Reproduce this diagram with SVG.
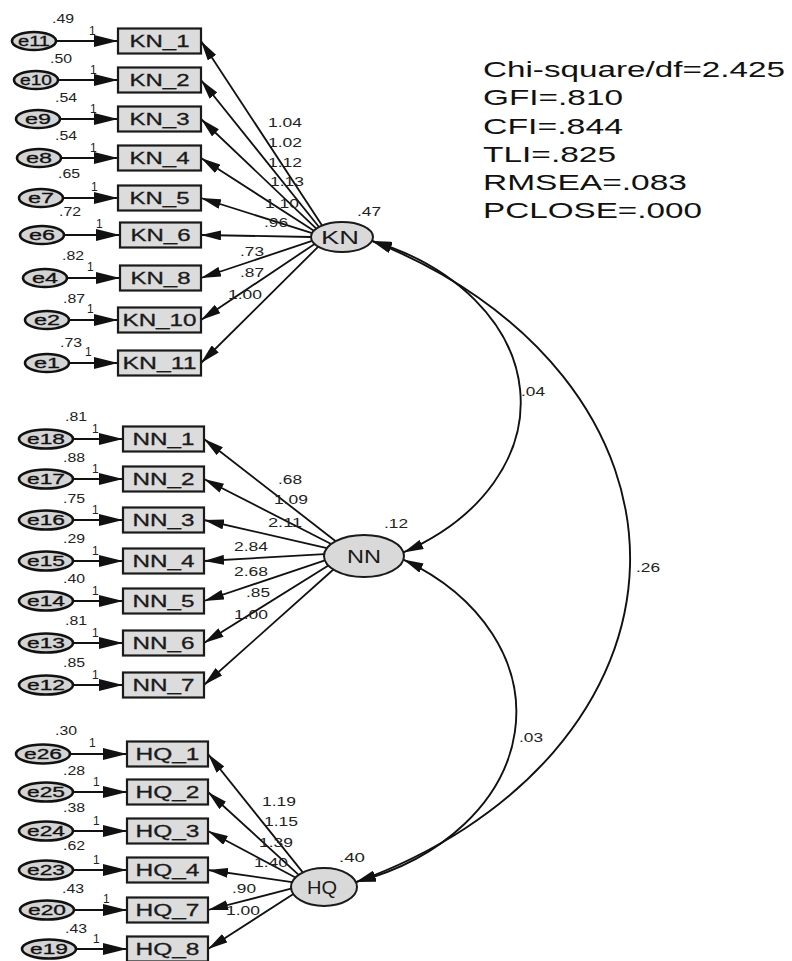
<svg xmlns="http://www.w3.org/2000/svg" width="792" height="961" viewBox="0 0 792 961">
<style>
.bg{fill:#ffffff}
.box{fill:#dcdcdc;stroke:#1a1a1a;stroke-width:2.2}
.lat{fill:#d9d9d9;stroke:#1a1a1a;stroke-width:2}
.err{fill:#d4d4d4;stroke:#111;stroke-width:2.6}
.ln{stroke:#111;stroke-width:1.8;fill:none;marker-end:url(#ah)}
.el-ln{stroke:#111;stroke-width:1.8;fill:none;marker-end:url(#ahb)}
.cov{stroke:#111;stroke-width:1.9;fill:none;marker-start:url(#ah);marker-end:url(#ah)}
.bl{font-family:"Liberation Sans",Arial,sans-serif;font-size:17px;fill:#1a1a1a;text-anchor:middle;stroke:#1a1a1a;stroke-width:0.3}
.ll{font-family:"Liberation Sans",Arial,sans-serif;font-size:18px;fill:#1a1a1a;text-anchor:middle}
.el{font-family:"Liberation Sans",Arial,sans-serif;font-size:14px;fill:#111;text-anchor:middle;stroke:#111;stroke-width:0.3}
.n{font-family:"Liberation Sans",Arial,sans-serif;font-size:12px;fill:#222}
.fit{font-family:"Liberation Sans",Arial,sans-serif;font-size:22px;fill:#111}
</style>
<defs>
<marker id="ah" viewBox="0 0 20 10" refX="20" refY="5" markerWidth="20" markerHeight="10" markerUnits="userSpaceOnUse" orient="auto-start-reverse"><path d="M0,0 L20,5 L0,10 Z" fill="#111"/></marker>
<marker id="ahb" viewBox="0 0 24 12" refX="24" refY="6" markerWidth="24" markerHeight="12" markerUnits="userSpaceOnUse" orient="auto"><path d="M0,0 L24,6 L0,12 Z" fill="#111"/></marker>
</defs>
<rect class="bg" x="0" y="0" width="792" height="961"/>

<g id="connectors">
<!-- error arrows KN -->
<line class="el-ln" x1="56" y1="41" x2="118" y2="41"/>
<line class="el-ln" x1="58" y1="80" x2="118" y2="80"/>
<line class="el-ln" x1="60" y1="119" x2="118" y2="119"/>
<line class="el-ln" x1="61" y1="158" x2="118" y2="158"/>
<line class="el-ln" x1="63" y1="198" x2="118" y2="198"/>
<line class="el-ln" x1="64" y1="235" x2="120" y2="235"/>
<line class="el-ln" x1="67" y1="278" x2="120" y2="278"/>
<line class="el-ln" x1="69" y1="320" x2="118" y2="320"/>
<line class="el-ln" x1="69" y1="363" x2="118" y2="363"/>
<!-- error arrows NN -->
<line class="el-ln" x1="73" y1="439" x2="123" y2="439"/>
<line class="el-ln" x1="73" y1="479" x2="123" y2="479"/>
<line class="el-ln" x1="73" y1="520" x2="123" y2="520"/>
<line class="el-ln" x1="73" y1="561" x2="123" y2="561"/>
<line class="el-ln" x1="73" y1="601" x2="123" y2="601"/>
<line class="el-ln" x1="73" y1="643" x2="123" y2="643"/>
<line class="el-ln" x1="73" y1="685" x2="123" y2="685"/>
<!-- error arrows HQ -->
<line class="el-ln" x1="70" y1="754" x2="127" y2="754"/>
<line class="el-ln" x1="73" y1="792" x2="127" y2="792"/>
<line class="el-ln" x1="73" y1="831" x2="127" y2="831"/>
<line class="el-ln" x1="73" y1="870" x2="127" y2="870"/>
<line class="el-ln" x1="74" y1="910" x2="127" y2="910"/>
<line class="el-ln" x1="76" y1="949" x2="127" y2="949"/>
<!-- loadings KN -->
<line class="ln" x1="322.1" y1="225.5" x2="201" y2="41"/>
<line class="ln" x1="319" y1="227" x2="201" y2="80"/>
<line class="ln" x1="316.3" y1="228.6" x2="201" y2="119"/>
<line class="ln" x1="313.9" y1="230.7" x2="201" y2="158"/>
<line class="ln" x1="312.1" y1="233.1" x2="201" y2="198"/>
<line class="ln" x1="311" y1="237" x2="201" y2="235"/>
<line class="ln" x1="312.1" y1="240.9" x2="201" y2="278"/>
<line class="ln" x1="314.6" y1="244" x2="201" y2="320"/>
<line class="ln" x1="318.3" y1="246.6" x2="201" y2="363"/>
<!-- loadings NN -->
<line class="ln" x1="335.7" y1="541.2" x2="204" y2="439"/>
<line class="ln" x1="331.2" y1="544" x2="204" y2="479"/>
<line class="ln" x1="326.9" y1="548.1" x2="204" y2="520"/>
<line class="ln" x1="324.2" y1="554.2" x2="204" y2="561"/>
<line class="ln" x1="324.9" y1="560.4" x2="204" y2="601"/>
<line class="ln" x1="328.4" y1="565.5" x2="204" y2="643"/>
<line class="ln" x1="333.4" y1="569.5" x2="204" y2="685"/>
<!-- loadings HQ -->
<line class="ln" x1="302.8" y1="872.4" x2="208" y2="754"/>
<line class="ln" x1="298.7" y1="874.8" x2="208" y2="792"/>
<line class="ln" x1="295.4" y1="877.5" x2="208" y2="831"/>
<line class="ln" x1="292.1" y1="882.1" x2="208" y2="870"/>
<line class="ln" x1="291.1" y1="888.7" x2="208" y2="910"/>
<line class="ln" x1="293.4" y1="894.1" x2="208" y2="949"/>
<!-- covariances -->
<path class="cov" d="M371.9,240.9 A242,175 0 0 1 403.4,552.4"/>
<path class="cov" d="M371.9,240.9 A488,360 0 0 1 355.9,882.1"/>
<path class="cov" d="M403.4,559.6 A240,180 0 0 1 355.9,882.1"/>
<!-- path labels -->
<g id="weights">
<text class="n" x="89" y="35">1</text>
<text class="n" x="90" y="74">1</text>
<text class="n" x="90" y="113">1</text>
<text class="n" x="90" y="152">1</text>
<text class="n" x="91" y="191">1</text>
<text class="n" x="96" y="228">1</text>
<text class="n" x="87" y="271">1</text>
<text class="n" x="87" y="313">1</text>
<text class="n" x="85" y="356">1</text>
<text class="n" x="92" y="433">1</text>
<text class="n" x="92" y="473">1</text>
<text class="n" x="92" y="514">1</text>
<text class="n" x="92" y="555">1</text>
<text class="n" x="92" y="595">1</text>
<text class="n" x="92" y="637">1</text>
<text class="n" x="92" y="679">1</text>
<text class="n" x="89" y="747">1</text>
<text class="n" x="93" y="786">1</text>
<text class="n" x="93" y="825">1</text>
<text class="n" x="93" y="864">1</text>
<text class="n" x="103" y="903">1</text>
<text class="n" x="93" y="943">1</text>
<text class="n" x="268" y="127" textLength="34" lengthAdjust="spacingAndGlyphs">1.04</text>
<text class="n" x="268" y="147" textLength="34" lengthAdjust="spacingAndGlyphs">1.02</text>
<text class="n" x="268" y="167" textLength="34" lengthAdjust="spacingAndGlyphs">1.12</text>
<text class="n" x="270" y="186" textLength="34" lengthAdjust="spacingAndGlyphs">1.13</text>
<text class="n" x="265" y="208" textLength="34" lengthAdjust="spacingAndGlyphs">1.10</text>
<text class="n" x="264" y="227" textLength="24" lengthAdjust="spacingAndGlyphs">.96</text>
<text class="n" x="240" y="256" textLength="24" lengthAdjust="spacingAndGlyphs">.73</text>
<text class="n" x="240" y="277" textLength="24" lengthAdjust="spacingAndGlyphs">.87</text>
<text class="n" x="228" y="299" textLength="34" lengthAdjust="spacingAndGlyphs">1.00</text>
<text class="n" x="278" y="484" textLength="24" lengthAdjust="spacingAndGlyphs">.68</text>
<text class="n" x="274" y="504" textLength="34" lengthAdjust="spacingAndGlyphs">1.09</text>
<text class="n" x="268" y="527" textLength="34" lengthAdjust="spacingAndGlyphs">2.11</text>
<text class="n" x="234" y="551" textLength="34" lengthAdjust="spacingAndGlyphs">2.84</text>
<text class="n" x="234" y="576" textLength="34" lengthAdjust="spacingAndGlyphs">2.68</text>
<text class="n" x="246" y="597" textLength="24" lengthAdjust="spacingAndGlyphs">.85</text>
<text class="n" x="234" y="619" textLength="34" lengthAdjust="spacingAndGlyphs">1.00</text>
<text class="n" x="262" y="806" textLength="34" lengthAdjust="spacingAndGlyphs">1.19</text>
<text class="n" x="264" y="826" textLength="34" lengthAdjust="spacingAndGlyphs">1.15</text>
<text class="n" x="259" y="847" textLength="34" lengthAdjust="spacingAndGlyphs">1.39</text>
<text class="n" x="254" y="867" textLength="34" lengthAdjust="spacingAndGlyphs">1.40</text>
<text class="n" x="232" y="893" textLength="24" lengthAdjust="spacingAndGlyphs">.90</text>
<text class="n" x="226" y="915" textLength="34" lengthAdjust="spacingAndGlyphs">1.00</text>
<text class="n" x="521" y="396" textLength="24" lengthAdjust="spacingAndGlyphs">.04</text>
<text class="n" x="636" y="572" textLength="24" lengthAdjust="spacingAndGlyphs">.26</text>
<text class="n" x="519" y="742" textLength="24" lengthAdjust="spacingAndGlyphs">.03</text>
</g>
</g>

<!-- latent variables -->
<g id="KN"><ellipse class="lat" cx="342" cy="237" rx="31" ry="15"/><text class="ll" x="340" y="244" textLength="38" lengthAdjust="spacingAndGlyphs">KN</text><text class="n" x="357" y="216" textLength="24" lengthAdjust="spacingAndGlyphs">.47</text></g>
<g id="NN"><ellipse class="lat" cx="364" cy="556" rx="40" ry="21"/><text class="ll" x="364" y="563" textLength="34" lengthAdjust="spacingAndGlyphs">NN</text><text class="n" x="384" y="528" textLength="24" lengthAdjust="spacingAndGlyphs">.12</text></g>
<g id="HQ"><ellipse class="lat" cx="324" cy="887" rx="33" ry="19"/><text class="ll" x="322" y="894" textLength="30" lengthAdjust="spacingAndGlyphs">HQ</text><text class="n" x="339" y="862" textLength="26" lengthAdjust="spacingAndGlyphs">.40</text></g>

<!-- KN indicators -->
<g id="KN_1"><rect class="box" x="118" y="28.5" width="83" height="25"/><text class="bl" x="159.5" y="47" textLength="60" lengthAdjust="spacingAndGlyphs">KN_1</text></g>
<g id="KN_2"><rect class="box" x="118" y="67.5" width="83" height="25"/><text class="bl" x="159.5" y="86" textLength="60" lengthAdjust="spacingAndGlyphs">KN_2</text></g>
<g id="KN_3"><rect class="box" x="118" y="106.5" width="83" height="25"/><text class="bl" x="159.5" y="125" textLength="60" lengthAdjust="spacingAndGlyphs">KN_3</text></g>
<g id="KN_4"><rect class="box" x="118" y="145.5" width="83" height="25"/><text class="bl" x="159.5" y="164" textLength="60" lengthAdjust="spacingAndGlyphs">KN_4</text></g>
<g id="KN_5"><rect class="box" x="118" y="185.5" width="83" height="25"/><text class="bl" x="159.5" y="204" textLength="60" lengthAdjust="spacingAndGlyphs">KN_5</text></g>
<g id="KN_6"><rect class="box" x="120" y="222.5" width="81" height="25"/><text class="bl" x="160.5" y="241" textLength="60" lengthAdjust="spacingAndGlyphs">KN_6</text></g>
<g id="KN_8"><rect class="box" x="120" y="265.5" width="81" height="25"/><text class="bl" x="160.5" y="284" textLength="60" lengthAdjust="spacingAndGlyphs">KN_8</text></g>
<g id="KN_10"><rect class="box" x="118" y="307.5" width="83" height="25"/><text class="bl" x="159.5" y="326" textLength="74" lengthAdjust="spacingAndGlyphs">KN_10</text></g>
<g id="KN_11"><rect class="box" x="118" y="350.5" width="83" height="25"/><text class="bl" x="159.5" y="369" textLength="74" lengthAdjust="spacingAndGlyphs">KN_11</text></g>

<!-- NN indicators -->
<g id="NN_1"><rect class="box" x="123" y="426.5" width="81" height="25"/><text class="bl" x="163.5" y="445" textLength="62" lengthAdjust="spacingAndGlyphs">NN_1</text></g>
<g id="NN_2"><rect class="box" x="123" y="466.5" width="81" height="25"/><text class="bl" x="163.5" y="485" textLength="62" lengthAdjust="spacingAndGlyphs">NN_2</text></g>
<g id="NN_3"><rect class="box" x="123" y="507.5" width="81" height="25"/><text class="bl" x="163.5" y="526" textLength="62" lengthAdjust="spacingAndGlyphs">NN_3</text></g>
<g id="NN_4"><rect class="box" x="123" y="548.5" width="81" height="25"/><text class="bl" x="163.5" y="567" textLength="62" lengthAdjust="spacingAndGlyphs">NN_4</text></g>
<g id="NN_5"><rect class="box" x="123" y="588.5" width="81" height="25"/><text class="bl" x="163.5" y="607" textLength="62" lengthAdjust="spacingAndGlyphs">NN_5</text></g>
<g id="NN_6"><rect class="box" x="123" y="630.5" width="81" height="25"/><text class="bl" x="163.5" y="649" textLength="62" lengthAdjust="spacingAndGlyphs">NN_6</text></g>
<g id="NN_7"><rect class="box" x="123" y="672.5" width="81" height="25"/><text class="bl" x="163.5" y="691" textLength="62" lengthAdjust="spacingAndGlyphs">NN_7</text></g>

<!-- HQ indicators -->
<g id="HQ_1"><rect class="box" x="127" y="741.5" width="81" height="25"/><text class="bl" x="167.5" y="760" textLength="64" lengthAdjust="spacingAndGlyphs">HQ_1</text></g>
<g id="HQ_2"><rect class="box" x="127" y="779.5" width="81" height="25"/><text class="bl" x="167.5" y="798" textLength="64" lengthAdjust="spacingAndGlyphs">HQ_2</text></g>
<g id="HQ_3"><rect class="box" x="127" y="818.5" width="81" height="25"/><text class="bl" x="167.5" y="837" textLength="64" lengthAdjust="spacingAndGlyphs">HQ_3</text></g>
<g id="HQ_4"><rect class="box" x="127" y="857.5" width="81" height="25"/><text class="bl" x="167.5" y="876" textLength="64" lengthAdjust="spacingAndGlyphs">HQ_4</text></g>
<g id="HQ_7"><rect class="box" x="127" y="897.5" width="81" height="25"/><text class="bl" x="167.5" y="916" textLength="64" lengthAdjust="spacingAndGlyphs">HQ_7</text></g>
<g id="HQ_8"><rect class="box" x="127" y="936.5" width="81" height="25"/><text class="bl" x="167.5" y="955" textLength="64" lengthAdjust="spacingAndGlyphs">HQ_8</text></g>

<!-- error terms KN -->
<g id="e11"><ellipse class="err" cx="34" cy="41" rx="22" ry="9"/><text class="el" x="34" y="46" textLength="32" lengthAdjust="spacingAndGlyphs">e11</text><text class="n" x="52" y="23" textLength="22" lengthAdjust="spacingAndGlyphs">.49</text></g>
<g id="e10"><ellipse class="err" cx="36" cy="80" rx="22" ry="9"/><text class="el" x="36" y="85" textLength="32" lengthAdjust="spacingAndGlyphs">e10</text><text class="n" x="50" y="63" textLength="22" lengthAdjust="spacingAndGlyphs">.50</text></g>
<g id="e9"><ellipse class="err" cx="38" cy="119" rx="22" ry="9"/><text class="el" x="38" y="124" textLength="26" lengthAdjust="spacingAndGlyphs">e9</text><text class="n" x="55" y="102" textLength="22" lengthAdjust="spacingAndGlyphs">.54</text></g>
<g id="e8"><ellipse class="err" cx="39" cy="158" rx="22" ry="9"/><text class="el" x="39" y="163" textLength="26" lengthAdjust="spacingAndGlyphs">e8</text><text class="n" x="55" y="140" textLength="22" lengthAdjust="spacingAndGlyphs">.54</text></g>
<g id="e7"><ellipse class="err" cx="41" cy="198" rx="22" ry="9"/><text class="el" x="41" y="203" textLength="26" lengthAdjust="spacingAndGlyphs">e7</text><text class="n" x="58" y="178" textLength="22" lengthAdjust="spacingAndGlyphs">.65</text></g>
<g id="e6"><ellipse class="err" cx="42" cy="235" rx="22" ry="9"/><text class="el" x="42" y="240" textLength="26" lengthAdjust="spacingAndGlyphs">e6</text><text class="n" x="59" y="216" textLength="22" lengthAdjust="spacingAndGlyphs">.72</text></g>
<g id="e4"><ellipse class="err" cx="45" cy="278" rx="22" ry="9"/><text class="el" x="45" y="283" textLength="26" lengthAdjust="spacingAndGlyphs">e4</text><text class="n" x="62" y="260" textLength="22" lengthAdjust="spacingAndGlyphs">.82</text></g>
<g id="e2"><ellipse class="err" cx="47" cy="320" rx="22" ry="9"/><text class="el" x="47" y="325" textLength="26" lengthAdjust="spacingAndGlyphs">e2</text><text class="n" x="63" y="303" textLength="22" lengthAdjust="spacingAndGlyphs">.87</text></g>
<g id="e1"><ellipse class="err" cx="47" cy="363" rx="22" ry="9"/><text class="el" x="47" y="368" textLength="26" lengthAdjust="spacingAndGlyphs">e1</text><text class="n" x="60" y="347" textLength="22" lengthAdjust="spacingAndGlyphs">.73</text></g>

<!-- error terms NN -->
<g id="e18"><ellipse class="err" cx="46" cy="439" rx="27" ry="9.5"/><text class="el" x="46" y="444" textLength="38" lengthAdjust="spacingAndGlyphs">e18</text><text class="n" x="65" y="421" textLength="22" lengthAdjust="spacingAndGlyphs">.81</text></g>
<g id="e17"><ellipse class="err" cx="46" cy="479" rx="27" ry="9.5"/><text class="el" x="46" y="484" textLength="38" lengthAdjust="spacingAndGlyphs">e17</text><text class="n" x="63" y="462" textLength="22" lengthAdjust="spacingAndGlyphs">.88</text></g>
<g id="e16"><ellipse class="err" cx="46" cy="520" rx="27" ry="9.5"/><text class="el" x="46" y="525" textLength="38" lengthAdjust="spacingAndGlyphs">e16</text><text class="n" x="63" y="503" textLength="22" lengthAdjust="spacingAndGlyphs">.75</text></g>
<g id="e15"><ellipse class="err" cx="46" cy="561" rx="27" ry="9.5"/><text class="el" x="46" y="566" textLength="38" lengthAdjust="spacingAndGlyphs">e15</text><text class="n" x="63" y="543" textLength="22" lengthAdjust="spacingAndGlyphs">.29</text></g>
<g id="e14"><ellipse class="err" cx="46" cy="601" rx="27" ry="9.5"/><text class="el" x="46" y="606" textLength="38" lengthAdjust="spacingAndGlyphs">e14</text><text class="n" x="63" y="583" textLength="22" lengthAdjust="spacingAndGlyphs">.40</text></g>
<g id="e13"><ellipse class="err" cx="46" cy="643" rx="27" ry="9.5"/><text class="el" x="46" y="648" textLength="38" lengthAdjust="spacingAndGlyphs">e13</text><text class="n" x="65" y="625" textLength="22" lengthAdjust="spacingAndGlyphs">.81</text></g>
<g id="e12"><ellipse class="err" cx="46" cy="685" rx="27" ry="9.5"/><text class="el" x="46" y="690" textLength="38" lengthAdjust="spacingAndGlyphs">e12</text><text class="n" x="63" y="667" textLength="22" lengthAdjust="spacingAndGlyphs">.85</text></g>

<!-- error terms HQ -->
<g id="e26"><ellipse class="err" cx="43" cy="754" rx="27" ry="9.5"/><text class="el" x="43" y="759" textLength="38" lengthAdjust="spacingAndGlyphs">e26</text><text class="n" x="55" y="735" textLength="22" lengthAdjust="spacingAndGlyphs">.30</text></g>
<g id="e25"><ellipse class="err" cx="46" cy="792" rx="27" ry="9.5"/><text class="el" x="46" y="797" textLength="38" lengthAdjust="spacingAndGlyphs">e25</text><text class="n" x="63" y="775" textLength="22" lengthAdjust="spacingAndGlyphs">.28</text></g>
<g id="e24"><ellipse class="err" cx="46" cy="831" rx="27" ry="9.5"/><text class="el" x="46" y="836" textLength="38" lengthAdjust="spacingAndGlyphs">e24</text><text class="n" x="63" y="812" textLength="22" lengthAdjust="spacingAndGlyphs">.38</text></g>
<g id="e23"><ellipse class="err" cx="46" cy="870" rx="27" ry="9.5"/><text class="el" x="46" y="875" textLength="38" lengthAdjust="spacingAndGlyphs">e23</text><text class="n" x="63" y="850" textLength="22" lengthAdjust="spacingAndGlyphs">.62</text></g>
<g id="e20"><ellipse class="err" cx="47" cy="910" rx="27" ry="9.5"/><text class="el" x="47" y="915" textLength="38" lengthAdjust="spacingAndGlyphs">e20</text><text class="n" x="62" y="893" textLength="22" lengthAdjust="spacingAndGlyphs">.43</text></g>
<g id="e19"><ellipse class="err" cx="49" cy="949" rx="27" ry="9.5"/><text class="el" x="49" y="954" textLength="38" lengthAdjust="spacingAndGlyphs">e19</text><text class="n" x="65" y="933" textLength="22" lengthAdjust="spacingAndGlyphs">.43</text></g>

<!-- fit indices -->
<g id="fit">
<text class="fit" x="483" y="77" textLength="302" lengthAdjust="spacingAndGlyphs">Chi-square/df=2.425</text>
<text class="fit" x="483" y="105" textLength="140" lengthAdjust="spacingAndGlyphs">GFI=.810</text>
<text class="fit" x="483" y="134" textLength="140" lengthAdjust="spacingAndGlyphs">CFI=.844</text>
<text class="fit" x="483" y="162" textLength="133" lengthAdjust="spacingAndGlyphs">TLI=.825</text>
<text class="fit" x="483" y="190" textLength="204" lengthAdjust="spacingAndGlyphs">RMSEA=.083</text>
<text class="fit" x="483" y="218" textLength="219" lengthAdjust="spacingAndGlyphs">PCLOSE=.000</text>
</g>
</svg>
